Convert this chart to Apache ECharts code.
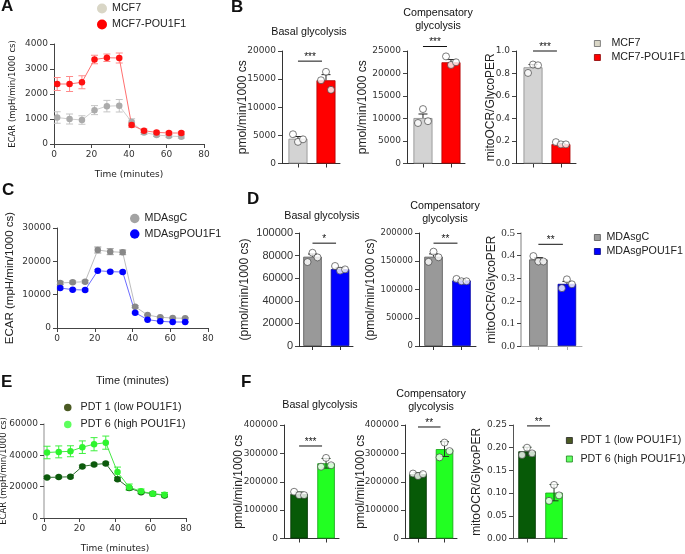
<!DOCTYPE html>
<html>
<head>
<meta charset="utf-8">
<script src="https://cdn.jsdelivr.net/npm/echarts@6/dist/echarts.min.js"></script>
<style>
  html, body { margin: 0; padding: 0; background: #fff; }
  #main { width: 685px; height: 554px; }
</style>
</head>
<body>
<div id="main"></div>
<script>
// ---- ECAR traces (time in minutes) ----
var timePoints = [1.7, 8.3, 14.9, 21.6, 28.2, 34.8, 41.4, 48.0, 54.7, 61.3, 67.9];

var mcf7Ecar       = [1060, 1000, 960, 1355, 1515, 1530, 880, 465, 360, 320, 295];
var mcf7EcarErr    = [230, 200, 170, 180, 230, 250, 130, 80, 60, 60, 60];
var mcf7PouEcar    = [2400, 2400, 2470, 3380, 3450, 3440, 760, 530, 465, 440, 440];
var mcf7PouEcarErr = [260, 300, 260, 170, 150, 200, 90, 70, 50, 50, 50];

var mdaCEcar       = [13500, 13700, 13900, 23400, 22900, 22700, 6400, 3900, 3200, 3000, 2900];
var mdaCEcarErr    = [500, 400, 400, 900, 900, 700, 300, 200, 200, 200, 200];
var mdaPouEcar     = [12000, 11500, 11400, 17200, 16900, 16800, 4600, 2500, 2000, 1800, 1800];
var mdaPouEcarErr  = [300, 300, 300, 300, 300, 300, 200, 100, 100, 100, 100];

var pdt1Ecar       = [25900, 26100, 26300, 32900, 34100, 34800, 24800, 19100, 16500, 15500, 14400];
var pdt1EcarErr    = [700, 700, 700, 800, 800, 800, 900, 700, 600, 600, 600];
var pdt6Ecar       = [41800, 42200, 42600, 45200, 47100, 48100, 29300, 19700, 17000, 15500, 14800];
var pdt6EcarErr    = [4000, 3800, 3500, 4000, 4200, 4200, 3200, 2000, 1500, 1300, 1500];

// ---- summary bars: [group1, group2], replicate points per group ----
var mcfBasal = [4400, 14800],   mcfBasalErr = [400, 1000];
var mcfBasalPts = [[5200, 3850, 4300], [14800, 16300, 13100]];
var mcfComp = [10100, 22500],   mcfCompErr = [900, 600];
var mcfCompPts = [[9000, 12100, 9400], [23800, 21900, 22500]];
var mcfRatio = [0.855, 0.172],  mcfRatioErr = [0.025, 0.007];
var mcfRatioPts = [[0.805, 0.88, 0.873], [0.19, 0.17, 0.17]];

var mdaBasal = [79000, 68000],  mdaBasalErr = [2400, 1300];
var mdaBasalPts = [[74300, 82500, 78400], [70800, 66700, 67800]];
var mdaComp = [158000, 116000], mdaCompErr = [5000, 1400];
var mdaCompPts = [[149000, 167000, 157000], [118700, 114600, 114600]];
var mdaRatio = [0.383, 0.275],  mdaRatioErr = [0.008, 0.011];
var mdaRatioPts = [[0.398, 0.374, 0.374], [0.256, 0.295, 0.273]];

var pdtBasal = [157000, 265000], pdtBasalErr = [7000, 17000];
var pdtBasalPts = [[164700, 152900, 152900], [253000, 284000, 258000]];
var pdtComp = [227000, 315000],  pdtCompErr = [5000, 26000];
var pdtCompPts = [[229000, 220000, 227000], [286000, 338000, 308000]];
var pdtRatio = [0.192, 0.101],   pdtRatioErr = [0.009, 0.018];
var pdtRatioPts = [[0.184, 0.2, 0.1875], [0.083, 0.118, 0.095]];

// significance: [from group, to group, level], stars
var sigMcf = [18200, 26000, 1.0], starsMcf = ['***', '***', '***'];
var sigMda = [91000, 182000, 0.45], starsMda = ['*', '**', '**'];
var sigPdt = [326000, 393000, 0.248], starsPdt = ['***', '**', '**'];

var ARIAL = 'Liberation Sans, Arial, sans-serif';
var WIDE = 'DejaVu Sans, Verdana, sans-serif';
var SERIF = 'Liberation Serif, Times New Roman, serif';

var grids = [], xAxes = [], yAxes = [], series = [], legends = [], texts = [];

function pairs(xs, ys, es) {
  return xs.map(function (x, i) { return es ? [x, ys[i], es[i]] : [x, ys[i]]; });
}

function errRender(cap, color, both) {
  return function (params, api) {
    var x = api.value(0), y = api.value(1), e = api.value(2);
    var top = api.coord([x, y + e]);
    var mid = api.coord([x, y]);
    var bot = both ? api.coord([x, y - e]) : mid;
    var st = { stroke: color, lineWidth: 1 };
    var kids = [
      { type: 'line', shape: { x1: top[0], y1: top[1], x2: bot[0], y2: bot[1] }, style: st },
      { type: 'line', shape: { x1: top[0] - cap, y1: top[1], x2: top[0] + cap, y2: top[1] }, style: st }
    ];
    if (both) kids.push({ type: 'line', shape: { x1: bot[0] - cap, y1: bot[1], x2: bot[0] + cap, y2: bot[1] }, style: st });
    return { type: 'group', children: kids };
  };
}

function sigRender(stars) {
  return function (params, api) {
    var a = api.coord([api.value(0), api.value(2)]);
    var b = api.coord([api.value(1), api.value(2)]);
    var x2 = b[0] - 4;
    return { type: 'group', children: [
      { type: 'line', shape: { x1: a[0], y1: a[1], x2: x2, y2: b[1] }, style: { stroke: '#111', lineWidth: 1 } },
      { type: 'text', x: (a[0] + x2) / 2, y: a[1] + 1,
        style: { text: stars, fontSize: 10, fill: '#111', align: 'center', verticalAlign: 'bottom', fontFamily: ARIAL } }
    ] };
  };
}

function axisLineStyle(c, w) { return { show: true, onZero: false, lineStyle: { color: c, width: w || 1 } }; }

function addLineChart(cfg) {
  var gi = grids.length;
  grids.push({ left: cfg.box[0], top: cfg.box[1], width: cfg.box[2], height: cfg.box[3], outerBoundsMode: 'none', containLabel: false });
  xAxes.push({
    gridIndex: gi, type: 'value', min: 0, max: 80, interval: 20,
    axisLine: axisLineStyle('#444'), axisTick: { show: true, length: 4, lineStyle: { color: '#444' } },
    axisLabel: { fontFamily: WIDE, fontSize: 9, color: '#333', margin: 6 },
    splitLine: { show: false },
    name: cfg.xName, nameLocation: 'middle', nameGap: cfg.xGap, nameMoveOverlap: false,
    nameTextStyle: cfg.xNameStyle
  });
  yAxes.push({
    gridIndex: gi, type: 'value', min: 0, max: cfg.max, interval: cfg.interval,
    axisLine: axisLineStyle(cfg.yAxisColor || '#444', cfg.yAxisWidth || 1),
    axisTick: { show: true, length: 4, lineStyle: { color: '#444' } },
    axisLabel: { fontFamily: WIDE, fontSize: 9, color: '#333', margin: 6, formatter: function (v) { return String(v); } },
    splitLine: { show: false },
    name: cfg.yName, nameLocation: 'middle', nameGap: cfg.yGap, nameRotate: 90, nameMoveOverlap: false,
    nameTextStyle: cfg.yNameStyle
  });
  cfg.groups.forEach(function (g) {
    series.push({
      type: 'custom', name: g.name + ' err', xAxisIndex: gi, yAxisIndex: gi, silent: true, z: 2,
      data: pairs(timePoints, g.y, g.err), renderItem: errRender(3.5, g.errColor, true)
    });
    series.push({
      type: 'line', name: g.name, xAxisIndex: gi, yAxisIndex: gi, z: 3,
      data: pairs(timePoints, g.y), symbol: 'circle', symbolSize: 6.5,
      itemStyle: { color: g.marker }, lineStyle: { color: g.line, width: 1 }
    });
  });
}

function addBarChart(cfg) {
  var gi = grids.length;
  grids.push({ left: cfg.box[0], top: cfg.box[1], width: cfg.box[2], height: cfg.box[3], outerBoundsMode: 'none', containLabel: false });
  xAxes.push({
    gridIndex: gi, type: 'value', min: cfg.xr[0], max: cfg.xr[1],
    axisLine: axisLineStyle(cfg.axisColor), axisTick: { show: true, customValues: [1, 2], length: 4, lineStyle: { color: cfg.axisColor } },
    axisLabel: { show: false }, splitLine: { show: false }
  });
  yAxes.push({
    gridIndex: gi, type: 'value', min: 0, max: cfg.max, interval: cfg.interval,
    axisLine: axisLineStyle(cfg.axisColor, cfg.axisWidth), axisTick: { show: true, length: 4, lineStyle: { color: '#444' } },
    axisLabel: { fontFamily: cfg.tickFont, fontSize: cfg.tickSize, color: '#333', margin: 6, formatter: function (v) { return v.toFixed(cfg.digits); } },
    splitLine: { show: false },
    name: cfg.yName, nameLocation: 'middle', nameGap: cfg.yGap, nameRotate: 90, nameMoveOverlap: false,
    nameTextStyle: { fontFamily: ARIAL, fontSize: 12, color: '#222' }
  });
  series.push({
    type: 'custom', name: 'err', xAxisIndex: gi, yAxisIndex: gi, silent: true, z: cfg.errBoth ? 4 : 1,
    data: cfg.mean.map(function (m, i) { return [i + 1, m, cfg.err[i]]; }),
    renderItem: errRender(4.5, cfg.errColor, cfg.errBoth)
  });
  series.push({
    type: 'bar', name: 'bars', xAxisIndex: gi, yAxisIndex: gi, barWidth: cfg.barWidth, z: 2,
    data: cfg.mean.map(function (m, i) {
      return { value: [i + 1, m], itemStyle: { color: cfg.fill[i], borderColor: cfg.stroke[i], borderWidth: 0.8 } };
    })
  });
  var pts = [];
  cfg.pts.forEach(function (grp, i) {
    grp.forEach(function (v, j) { pts.push({ value: [i + 1, v], symbolOffset: [(j - 1) * 5, 0] }); });
  });
  series.push({
    type: 'scatter', name: 'pts', xAxisIndex: gi, yAxisIndex: gi, z: 5, symbol: 'circle', symbolSize: 7,
    itemStyle: { color: '#fff', borderColor: '#333', borderWidth: 0.8 }, data: pts
  });
  series.push({
    type: 'custom', name: 'sig', xAxisIndex: gi, yAxisIndex: gi, silent: true, z: 6,
    data: [[1, 2, cfg.sig]], renderItem: sigRender(cfg.stars)
  });
}

var wideName = { fontFamily: WIDE, fontSize: 8.5, color: '#222' };
var wideX = { fontFamily: WIDE, fontSize: 9, color: '#222' };
var arialName = { fontFamily: ARIAL, fontSize: 11.5, color: '#222' };

// ---- A ----
addLineChart({
  box: [54, 44, 150, 100], max: 4000, interval: 1000,
  xName: 'Time (minutes)', xGap: 26, xNameStyle: wideX,
  yName: 'ECAR (mpH/min/1000 cs)', yGap: 37, yNameStyle: wideName,
  groups: [
    { name: 'MCF7', y: mcf7Ecar, err: mcf7EcarErr, marker: '#ababab', line: '#cfcfcf', errColor: '#c4c4c4' },
    { name: 'MCF7-POU1F1', y: mcf7PouEcar, err: mcf7PouEcarErr, marker: '#ff1010', line: '#ff7070', errColor: '#ff8a8a' }
  ]
});
// ---- C ----
addLineChart({
  box: [57, 228, 151, 100], max: 30000, interval: 10000,
  xName: 'Time (minutes)', xGap: 47, xNameStyle: { fontFamily: ARIAL, fontSize: 11, color: '#222' },
  yName: 'ECAR (mpH/min/1000 cs)', yGap: 41, yNameStyle: arialName,
  groups: [
    { name: 'MDAsgC', y: mdaCEcar, err: mdaCEcarErr, marker: '#888888', line: '#bdbdbd', errColor: '#9a9a9a' },
    { name: 'MDAsgPOU1F1', y: mdaPouEcar, err: mdaPouEcarErr, marker: '#0000ff', line: '#6b6bff', errColor: '#6b6bff' }
  ]
});
// ---- E ----
addLineChart({
  box: [44, 424, 142, 94], max: 60000, interval: 20000,
  xName: 'Time (minutes)', xGap: 26, xNameStyle: wideX,
  yName: 'ECAR (mpH/min/1000 cs)', yGap: 36, yNameStyle: wideName, yAxisColor: '#b5b5b5', yAxisWidth: 1.5,
  groups: [
    { name: 'PDT 1 (low POU1F1)', y: pdt1Ecar, err: pdt1EcarErr, marker: '#0c5a0c', line: '#2f6f2f', errColor: '#2f6f2f' },
    { name: 'PDT 6 (high POU1F1)', y: pdt6Ecar, err: pdt6EcarErr, marker: '#2ef52e', line: '#45e845', errColor: '#3ef03e' }
  ]
});

// ---- B ----
var mcfFill = ['#d3d3d3', '#ff0000'], mcfStroke = ['#8a8a8a', '#b00000'];
addBarChart({ box: [282, 51, 58, 112.5], xr: [0.43, 2.5], max: 20000, interval: 5000, digits: 0,
  axisColor: '#333', tickFont: WIDE, tickSize: 9, yName: 'pmol/min/1000 cs', yGap: 33,
  mean: mcfBasal, err: mcfBasalErr, pts: mcfBasalPts, fill: mcfFill, stroke: mcfStroke, barWidth: 19,
  errColor: '#222', sig: sigMcf[0], stars: starsMcf[0] });
addBarChart({ box: [407, 51, 58, 112.5], xr: [0.43, 2.5], max: 25000, interval: 5000, digits: 0,
  axisColor: '#333', tickFont: WIDE, tickSize: 9, yName: 'pmol/min/1000 cs', yGap: 38,
  mean: mcfComp, err: mcfCompErr, pts: mcfCompPts, fill: mcfFill, stroke: mcfStroke, barWidth: 19,
  errColor: '#222', sig: sigMcf[1], stars: starsMcf[1] });
addBarChart({ box: [516, 51, 60, 112.5], xr: [0.39, 2.54], max: 1.0, interval: 0.2, digits: 1,
  axisColor: '#333', tickFont: WIDE, tickSize: 9, yName: 'mitoOCR/GlycoPER', yGap: 19,
  mean: mcfRatio, err: mcfRatioErr, pts: mcfRatioPts, fill: mcfFill, stroke: mcfStroke, barWidth: 19,
  errColor: '#222', sig: sigMcf[2], stars: starsMcf[2] });

// ---- D ----
var mdaFill = ['#999999', '#0000ff'], mdaStroke = ['#555555', '#0000a0'];
addBarChart({ box: [299, 233, 54, 113], xr: [0.51, 2.47], max: 100000, interval: 20000, digits: 0,
  axisColor: '#333', tickFont: ARIAL, tickSize: 11, yName: '(pmol/min/1000 cs)', yGap: 48,
  mean: mdaBasal, err: mdaBasalErr, pts: mdaBasalPts, fill: mdaFill, stroke: mdaStroke, barWidth: 18.5,
  errColor: '#222', sig: sigMda[0], stars: starsMda[0] });
addBarChart({ box: [419, 233, 57, 113], xr: [0.48, 2.52], max: 200000, interval: 50000, digits: 0,
  axisColor: '#333', tickFont: WIDE, tickSize: 8.5, yName: '(pmol/min/1000 cs)', yGap: 42,
  mean: mdaComp, err: mdaCompErr, pts: mdaCompPts, fill: mdaFill, stroke: mdaStroke, barWidth: 18.5,
  errColor: '#222', sig: sigMda[1], stars: starsMda[1] });
addBarChart({ box: [521, 233, 61, 113], xr: [0.39, 2.53], max: 0.5, interval: 0.1, digits: 1,
  axisColor: '#a8a8a8', axisWidth: 1.5, tickFont: SERIF, tickSize: 11, yName: 'mitoOCR/GlycoPER', yGap: 23,
  mean: mdaRatio, err: mdaRatioErr, pts: mdaRatioPts, fill: mdaFill, stroke: mdaStroke, barWidth: 18.5,
  errColor: '#222', sig: sigMda[2], stars: starsMda[2] });

// ---- F ----
var pdtFill = ['#075a07', '#22ff22'], pdtStroke = ['#033303', '#12a012'];
addBarChart({ box: [284, 425, 55, 113.5], xr: [0.44, 2.48], max: 400000, interval: 100000, digits: 0,
  axisColor: '#333', tickFont: WIDE, tickSize: 9, yName: 'pmol/min/1000 cs', yGap: 39,
  mean: pdtBasal, err: pdtBasalErr, pts: pdtBasalPts, fill: pdtFill, stroke: pdtStroke, barWidth: 17.5,
  errColor: '#1d3d1d', errBoth: true, sig: sigPdt[0], stars: starsPdt[0] });
addBarChart({ box: [405, 425, 52, 113.5], xr: [0.51, 2.47], max: 400000, interval: 100000, digits: 0,
  axisColor: '#333', tickFont: WIDE, tickSize: 9, yName: 'pmol/min/1000 cs', yGap: 38,
  mean: pdtComp, err: pdtCompErr, pts: pdtCompPts, fill: pdtFill, stroke: pdtStroke, barWidth: 17.5,
  errColor: '#1d3d1d', errBoth: true, sig: sigPdt[1], stars: starsPdt[1] });
addBarChart({ box: [513, 425, 54, 113.5], xr: [0.48, 2.48], max: 0.25, interval: 0.05, digits: 2,
  axisColor: '#555', tickFont: WIDE, tickSize: 9, yName: 'mitoOCR/GlycoPER', yGap: 30,
  mean: pdtRatio, err: pdtRatioErr, pts: pdtRatioPts, fill: pdtFill, stroke: pdtStroke, barWidth: 17.5,
  errColor: '#1d3d1d', errBoth: true, sig: sigPdt[2], stars: starsPdt[2] });

// ---- legends ----
function legendBox(left, top, iconSize, gap, pad, items, icon) {
  legends.push({
    left: left, top: top, orient: 'vertical', padding: 0, selectedMode: false,
    itemWidth: iconSize, itemHeight: iconSize, itemGap: gap,
    textStyle: { fontFamily: ARIAL, fontSize: 10.7, color: '#222', lineHeight: 10, padding: [0, 0, 0, pad] },
    data: items.map(function (it) {
      return { name: it[0], icon: icon, itemStyle: { color: it[1], borderColor: it[2] || it[1], borderWidth: it[2] ? 0.8 : 0 } };
    })
  });
}
legendBox(97, 3, 10, 5, 0, [['MCF7', '#d9d6c6'], ['MCF7-POU1F1', '#ff0000']], 'circle');
legendBox(594, 38, 6, 3, 6, [['MCF7', '#d9d6c6', '#666'], ['MCF7-POU1F1', '#ff0000', '#800']], 'rect');
legendBox(130, 213, 9.5, 4.5, 0, [['MDAsgC', '#a3a3a3'], ['MDAsgPOU1F1', '#0000ff']], 'circle');
legendBox(594, 232, 6, 3, 1, [['MDAsgC', '#9a9a9a', '#555'], ['MDAsgPOU1F1', '#0000ff', '#000080']], 'rect');
legendBox(64, 402, 7.5, 6, 4, [['PDT 1 (low POU1F1)', '#4b5a23'], ['PDT 6 (high POU1F1)', '#5dff5d']], 'circle');
legendBox(566, 435, 6, 7.5, 3, [['PDT 1 (low POU1F1)', '#4b5a23', '#222'], ['PDT 6 (high POU1F1)', '#66ff66', '#1a801a']], 'rect');

// ---- panel letters and titles ----
function label(text, x, y, size, bold, align) {
  texts.push({ type: 'text', x: x, y: y, silent: true,
    style: { text: text, fontFamily: ARIAL, fontSize: size, fontWeight: bold ? 'bold' : 'normal', fill: '#111',
      align: align || 'left', verticalAlign: 'top', lineHeight: 13 } });
}
label('A', 1, 0, 17, true);
label('B', 231, 1, 17, true);
label('C', 2, 184, 17, true);
label('D', 247, 193, 17, true);
label('E', 1, 376, 17, true);
label('F', 241, 376, 17, true);
label('Basal glycolysis', 309, 26, 10.7, false, 'center');
label('Compensatory\nglycolysis', 438, 7, 10.7, false, 'center');
label('Basal glycolysis', 322, 210, 10.7, false, 'center');
label('Compensatory\nglycolysis', 445, 200, 10.7, false, 'center');
label('Basal glycolysis', 320, 399, 10.7, false, 'center');
label('Compensatory\nglycolysis', 431, 388, 10.7, false, 'center');

var chart = echarts.init(document.getElementById('main'), null, { renderer: 'canvas' });
chart.setOption({
  animation: false,
  backgroundColor: '#fff',
  textStyle: { fontFamily: ARIAL },
  grid: grids, xAxis: xAxes, yAxis: yAxes,
  legend: legends, series: series, graphic: texts
});
</script>
</body>
</html>
